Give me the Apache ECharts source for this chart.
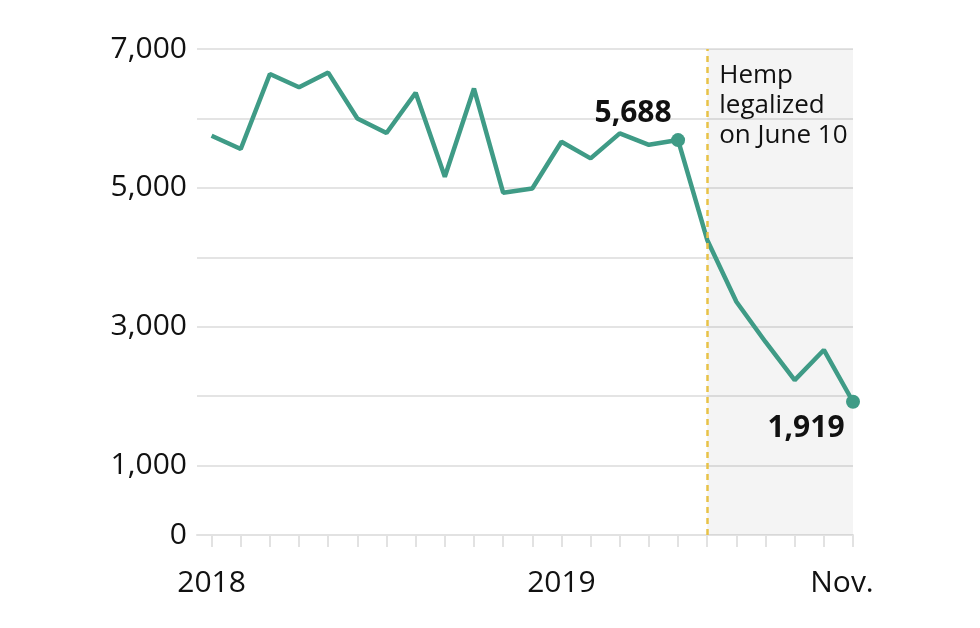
<!DOCTYPE html>
<html>
<head>
<meta charset="utf-8">
<script src="https://cdn.jsdelivr.net/npm/echarts@6/dist/echarts.min.js"></script>
<style>
  html, body { margin: 0; padding: 0; background: #fff; }
  #chart { width: 980px; height: 628px; }
</style>
</head>
<body>
<div id="chart"></div>
<script>
/* monthly values, Jan 2018 .. Nov 2019 */
const months = ['2018-01','2018-02','2018-03','2018-04','2018-05','2018-06','2018-07','2018-08','2018-09','2018-10','2018-11','2018-12',
                '2019-01','2019-02','2019-03','2019-04','2019-05','2019-06','2019-07','2019-08','2019-09','2019-10','2019-11'];
const values = [5750, 5560, 6640, 6450, 6660, 6000, 5790, 6370, 5160, 6430, 4930, 4990,
                5665, 5425, 5785, 5620, 5688, 4250, 3360, 2780, 2230, 2665, 1919];
const yTicks = [0, 1000, 3000, 5000, 7000];
const xTickLabels = { 0: '2018', 12: '2019', 22: 'Nov.' };
const highlightIdx = [16, 22];
const legalIdx = 17; // June 2019
const legalText = 'Hemp\nlegalized\non June 10';

const FONT = "'Open Sans', 'Noto Sans', sans-serif";
const INK = '#111';
const chart = echarts.init(document.getElementById('chart'));

const lineData = values.map((v, i) => [i, v]);
const monthIdx = months.map((m, i) => i);
const labelOffsets = { 16: [-45, -27], 22: [-47, 27] };

chart.setOption({
  animation: false,
  grid: { left: 197, right: 127, top: 49, bottom: 93 },
  xAxis: {
    type: 'value',
    min: -0.5,
    max: months.length - 1,
    splitLine: { show: false },
    axisLine: { show: true, lineStyle: { color: '#e2e2e2', width: 2 } },
    axisTick: { show: true, customValues: monthIdx, length: 12, lineStyle: { color: '#e2e2e2', width: 2 } },
    axisLabel: {
      customValues: Object.keys(xTickLabels).map(Number),
      margin: 33,
      fontFamily: FONT,
      fontSize: 30,
      color: INK,
      formatter: v => v === 22 ? '{n|' + xTickLabels[v] + '}' : xTickLabels[v],
      rich: { n: { fontFamily: FONT, fontSize: 30, color: INK, padding: [0, 22, 0, 0] } }
    }
  },
  yAxis: {
    type: 'value',
    min: 0,
    max: 7000,
    interval: 1000,
    axisLine: { show: false },
    axisTick: { show: false },
    splitLine: { lineStyle: { color: '#e4e4e4', width: 2 } },
    axisLabel: {
      margin: 10,
      fontFamily: FONT,
      fontSize: 30,
      color: INK,
      formatter: v => yTicks.includes(v) ? v.toLocaleString('en-US') : ''
    }
  },
  series: [
    {
      type: 'line',
      data: lineData,
      symbol: 'none',
      lineStyle: { color: '#3f9b86', width: 4.5 },
      markArea: {
        silent: true,
        itemStyle: { color: 'rgba(0,0,0,0.045)' },
        label: {
          show: true,
          position: 'insideTopLeft',
          distance: 5,
          offset: [7, 7],
          formatter: legalText,
          fontFamily: FONT,
          fontSize: 26,
          lineHeight: 30,
          color: INK
        },
        data: [[{ xAxis: legalIdx }, { xAxis: months.length - 1 }]]
      },
      markLine: {
        silent: true,
        symbol: 'none',
        label: { show: false },
        lineStyle: { color: '#e8c247', width: 2.5, type: [6, 5] },
        data: [{ xAxis: legalIdx }]
      }
    },
    {
      type: 'scatter',
      data: highlightIdx.map(i => ({
        value: [i, values[i]],
        label: { offset: labelOffsets[i] }
      })),
      symbol: 'circle',
      symbolSize: 14,
      itemStyle: { color: '#3f9b86', opacity: 1 },
      label: {
        show: true,
        position: 'inside',
        fontFamily: FONT,
        fontSize: 30,
        fontWeight: 'bold',
        color: INK,
        formatter: p => p.value[1].toLocaleString('en-US')
      },
      z: 5
    }
  ]
});
</script>
</body>
</html>
